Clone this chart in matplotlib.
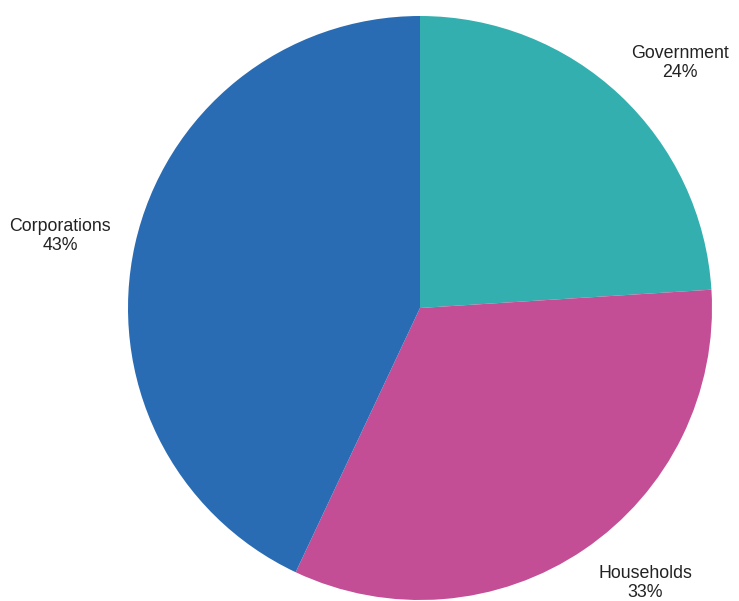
import matplotlib
matplotlib.use("Agg")
import matplotlib.pyplot as plt

# data, clockwise from 12 o'clock
labels = ['Government', 'Households', 'Corporations']
shares = [24, 33, 43]
colors = ['#33afaf', '#c44e95', '#2a6cb4']

plt.rcParams['font.family'] = ['Liberation Sans', 'DejaVu Sans']

fig = plt.figure(figsize=(7.39, 6.01), dpi=100)
ax = fig.add_axes([0, 0, 1, 1])

ax.pie(shares, colors=colors, startangle=90, counterclock=False,
       center=(420, 293), radius=292, frame=True,
       wedgeprops=dict(linewidth=0))
ax.set_xlim(0, 739)
ax.set_ylim(0, 601)
ax.axis('off')

# label positions (pixels, y from bottom)
label_pos = [(680, 538), (645, 18), (60, 365)]
for name, val, (x, y) in zip(labels, shares, label_pos):
    ax.text(x, y, f'{name}\n{val}%', ha='center', va='center',
            fontsize=12.8, color='#222222', linespacing=1.1)

fig.savefig('out.png', dpi=100)
